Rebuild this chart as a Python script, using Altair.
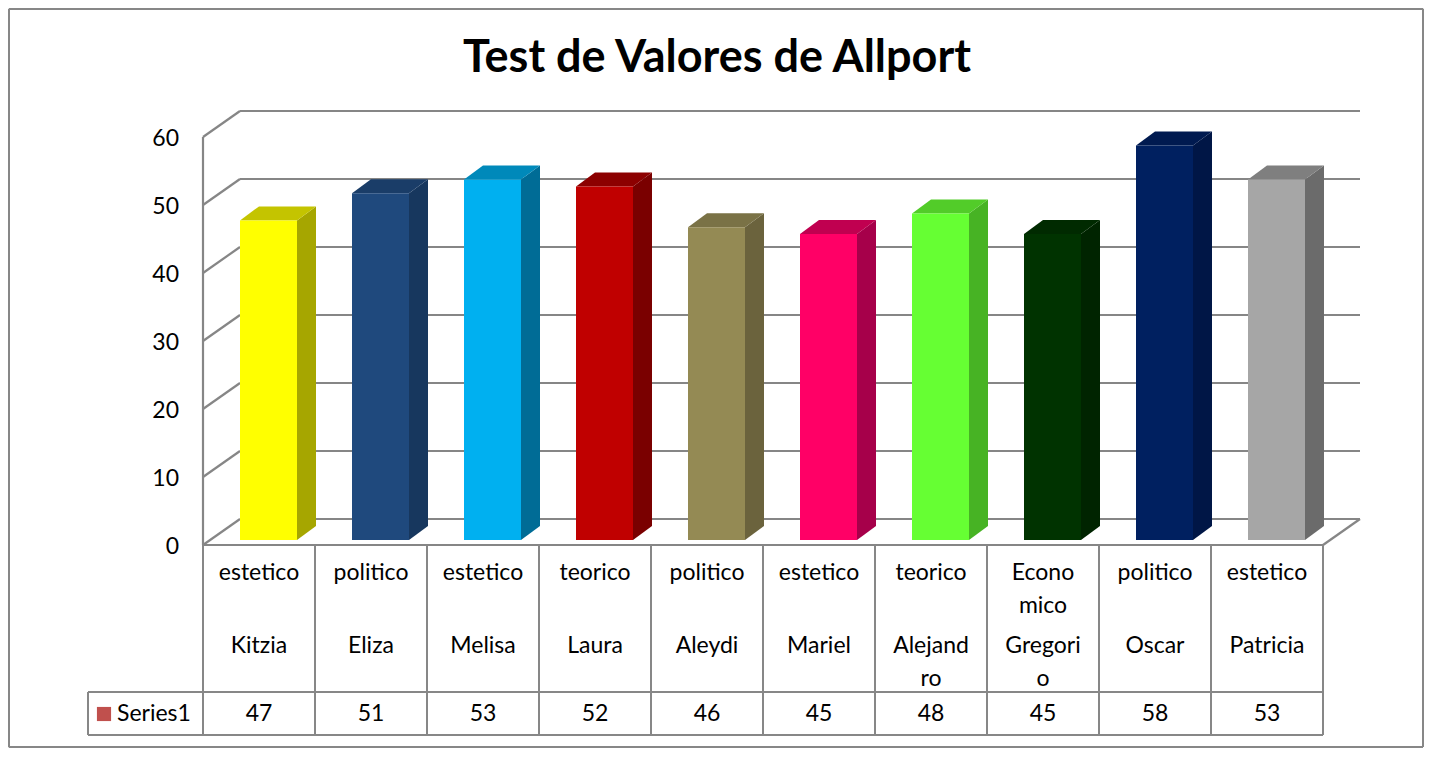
import altair as alt
import pandas as pd

# ---------------- data ----------------
title_text = "Test de Valores de Allport"
names = ["Kitzia", "Eliza", "Melisa", "Laura", "Aleydi", "Mariel", "Alejandro", "Gregorio", "Oscar", "Patricia"]
name_lines = [["Kitzia"], ["Eliza"], ["Melisa"], ["Laura"], ["Aleydi"], ["Mariel"],
              ["Alejand", "ro"], ["Gregori", "o"], ["Oscar"], ["Patricia"]]
type_lines = [["estetico"], ["politico"], ["estetico"], ["teorico"], ["politico"], ["estetico"],
              ["teorico"], ["Econo", "mico"], ["politico"], ["estetico"]]
values = [47, 51, 53, 52, 46, 45, 48, 45, 58, 53]
series_name = "Series1"
y_ticks = [0, 10, 20, 30, 40, 50, 60]

front_colors = ["#FFFF00", "#1F497D", "#00B0F0", "#C00000", "#948A54", "#FF0066", "#66FF33", "#003300", "#002060", "#A6A6A6"]
side_colors = ["#A6A600", "#17375E", "#006C96", "#7A0000", "#6B633D", "#A6004A", "#47B324", "#002400", "#001646", "#6B6B6B"]
top_colors = ["#C4C400", "#1A3D68", "#0089BA", "#8C0000", "#7A7246", "#C00050", "#52CC29", "#002A00", "#001A50", "#7F7F7F"]
legend_color = "#C0504D"

# ---------------- geometry (layout constants) ----------------
W, H = 1416, 740
COLW = 112.0          # pixels per category column
YPX = 6.8             # pixels per value unit
X0PAGE, Y0PAGE = 203, 545   # page pixel of front axis origin
XMIN = -(X0PAGE - 8) / COLW
XMAX = XMIN + W / COLW
YMAX = (Y0PAGE - 8) / YPX
YMIN = YMAX - H / YPX


def px(p):  # page x pixel -> data x
    return (p - X0PAGE) / COLW


def py(p):  # page y pixel -> data y
    return (Y0PAGE - p) / YPX


BACK_DX, BACK_DY = 37 / COLW, 26 / YPX     # depth of the back wall
BX0, BX1 = 37 / COLW, 94 / COLW            # bar front face inside a column
SDX, SDY = 19 / COLW, 14 / YPX             # bar depth
BASE = 5 / YPX
N = len(names)
YTOP = y_ticks[-1]
FONT = "Lato"
FS = 23

XS = alt.Scale(domain=[XMIN, XMAX], nice=False, zero=False)
YS = alt.Scale(domain=[YMIN, YMAX], nice=False, zero=False)


def X(f="x"):
    return alt.X(f"{f}:Q", scale=XS, axis=None)


def Y(f="y"):
    return alt.Y(f"{f}:Q", scale=YS, axis=None, stack=None)


# ---------------- outer border ----------------
bl, br, bt, bb = px(9), px(1423), py(9), py(747)
border_df = pd.DataFrame([
    dict(x=bl, y=bt, x2=br, y2=bt), dict(x=bl, y=bb, x2=br, y2=bb),
    dict(x=bl, y=bt, x2=bl, y2=bb), dict(x=br, y=bt, x2=br, y2=bb)])
border_layer = alt.Chart(border_df).mark_rule(color="#878787", strokeWidth=2).encode(
    x=X("x"), y=Y("y"), x2="x2:Q", y2="y2:Q")

# ---------------- gridlines / walls ----------------
grid = []
for t in y_ticks:
    grid.append(dict(x=0, y=t, x2=BACK_DX, y2=t + BACK_DY))
    grid.append(dict(x=BACK_DX, y=t + BACK_DY, x2=N + BACK_DX, y2=t + BACK_DY))
grid.append(dict(x=0, y=0, x2=0, y2=YTOP))
grid.append(dict(x=0, y=0, x2=N, y2=0))
grid.append(dict(x=N, y=0, x2=N + BACK_DX, y2=BACK_DY))
grid_df = pd.DataFrame(grid)
grid_layer = alt.Chart(grid_df).mark_rule(color="#868686", strokeWidth=2.2).encode(
    x=X("x"), y=Y("y"), x2="x2:Q", y2="y2:Q")

# ---------------- bars ----------------
front_df = pd.DataFrame(dict(
    name=names,
    x=[i + BX0 for i in range(N)], x2=[i + BX1 for i in range(N)],
    y=[BASE] * N, y2=[BASE + v for v in values], c=front_colors))
front_layer = alt.Chart(front_df).mark_rect().encode(
    x=X("x"), x2="x2:Q", y=Y("y"), y2="y2:Q", color=alt.Color("c:N", scale=None))

side_rows, top_rows = [], []
for i, (n, v) in enumerate(zip(names, values)):
    t = BASE + v
    side_rows.append(dict(name=n, x=i + BX1, y=BASE, y2=t, c=side_colors[i]))
    side_rows.append(dict(name=n, x=i + BX1 + SDX, y=BASE + SDY, y2=t + SDY, c=side_colors[i]))
    top_rows.append(dict(name=n, x=i + BX0, y=t, y2=t, c=top_colors[i]))
    top_rows.append(dict(name=n, x=i + BX0 + SDX, y=t, y2=t + SDY, c=top_colors[i]))
    top_rows.append(dict(name=n, x=i + BX1, y=t, y2=t + SDY, c=top_colors[i]))
    top_rows.append(dict(name=n, x=i + BX1 + SDX, y=t + SDY, y2=t + SDY, c=top_colors[i]))
side_layer = alt.Chart(pd.DataFrame(side_rows)).mark_area(interpolate="linear").encode(
    x=X("x"), y=Y("y"), y2="y2:Q", detail="name:N", color=alt.Color("c:N", scale=None))
top_layer = alt.Chart(pd.DataFrame(top_rows)).mark_area(interpolate="linear").encode(
    x=X("x"), y=Y("y"), y2="y2:Q", detail="name:N", color=alt.Color("c:N", scale=None))

# ---------------- data table ----------------
T_TOP, T_MID, T_BOT = py(545), py(692), py(735)
T_LEFT = px(88)
tab = []
for i in range(N + 1):
    tab.append(dict(x=i, y=T_TOP, x2=i, y2=T_BOT))
tab.append(dict(x=T_LEFT, y=T_MID, x2=N, y2=T_MID))
tab.append(dict(x=T_LEFT, y=T_BOT, x2=N, y2=T_BOT))
tab.append(dict(x=T_LEFT, y=T_MID, x2=T_LEFT, y2=T_BOT))
tab_layer = alt.Chart(pd.DataFrame(tab)).mark_rule(color="#878787", strokeWidth=2).encode(
    x=X("x"), y=Y("y"), x2="x2:Q", y2="y2:Q")

LINE = 33 / YPX
label_rows = []
for i in range(N):
    for k, s in enumerate(type_lines[i]):
        label_rows.append(dict(x=i + 0.5, y=py(573) - k * LINE, t=s))
    for k, s in enumerate(name_lines[i]):
        label_rows.append(dict(x=i + 0.5, y=py(646) - k * LINE, t=s))
    label_rows.append(dict(x=i + 0.5, y=py(714), t=str(values[i])))
label_layer = alt.Chart(pd.DataFrame(label_rows)).mark_text(
    font=FONT, fontSize=FS, color="#000000", baseline="middle", align="center").encode(
    x=X("x"), y=Y("y"), text="t:N")

series_df = pd.DataFrame([dict(x=px(117), y=py(714), t=series_name)])
series_layer = alt.Chart(series_df).mark_text(
    font=FONT, fontSize=FS, color="#000000", baseline="middle", align="left").encode(
    x=X("x"), y=Y("y"), text="t:N")
key_df = pd.DataFrame([dict(x=px(104), y=py(714))])
key_layer = alt.Chart(key_df).mark_square(size=200, color=legend_color, opacity=1).encode(
    x=X("x"), y=Y("y"))

# ---------------- y-axis labels ----------------
ytick_df = pd.DataFrame(dict(x=[px(179)] * len(y_ticks), y=y_ticks, t=[str(t) for t in y_ticks]))
ytick_layer = alt.Chart(ytick_df).mark_text(
    font=FONT, fontSize=FS, color="#000000", baseline="middle", align="right", dy=2).encode(
    x=X("x"), y=Y("y"), text="t:N")

# ---------------- title ----------------
title_df = pd.DataFrame([dict(x=px(717), y=py(58), t=title_text)])
title_layer = alt.Chart(title_df).mark_text(
    font=FONT, fontSize=45, fontWeight="bold", color="#000000", baseline="middle", align="center").encode(
    x=X("x"), y=Y("y"), text="t:N")

chart = alt.layer(
    border_layer, grid_layer, side_layer, top_layer, front_layer, tab_layer,
    label_layer, series_layer, key_layer, ytick_layer, title_layer
).properties(
    width=W, height=H, padding=0, autosize=alt.AutoSizeParams(type="none")
).configure_view(stroke=None).configure(background="white")

chart.save("out.html", embed_options={"renderer": "svg", "actions": False})
